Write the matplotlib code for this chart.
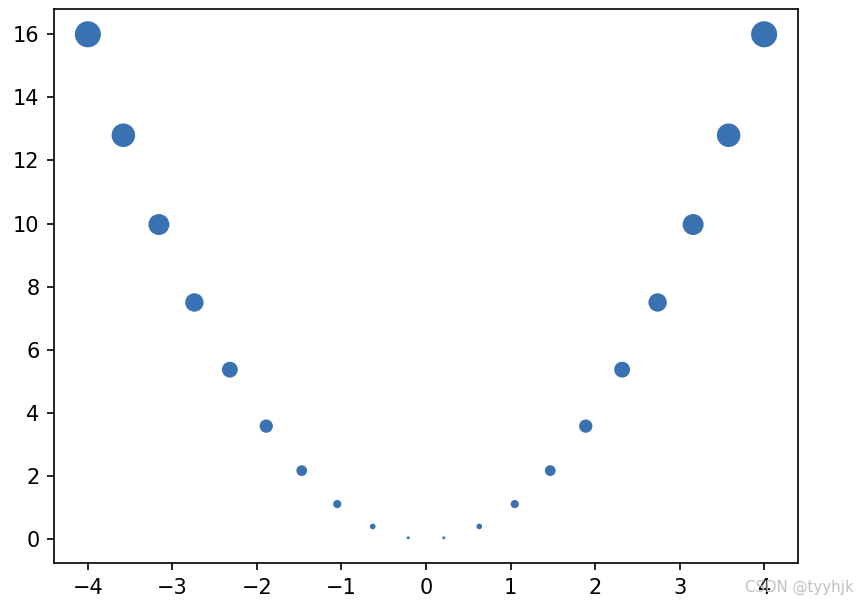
import matplotlib
matplotlib.use('Agg')
import matplotlib.pyplot as plt
import numpy as np

# values (x positions and heights of the dots)
x_vals = [-4.0, -3.58, -3.16, -2.74, -2.32, -1.89, -1.47, -1.05, -0.63, -0.21,
          0.21, 0.63, 1.05, 1.47, 1.89, 2.32, 2.74, 3.16, 3.58, 4.0]
y_vals = [16.0, 12.8, 9.97, 7.5, 5.37, 3.58, 2.17, 1.11, 0.4, 0.04,
          0.04, 0.4, 1.11, 2.17, 3.58, 5.37, 7.5, 9.97, 12.8, 16.0]

fig = plt.figure(figsize=(858 / 150, 607 / 150), dpi=150)
ax = fig.add_axes([0.063, 0.0725, 0.867, 0.9125])

y = np.array(y_vals)
# dot area grows with the value, thin edge keeps the tiny ones visible
ax.scatter(x_vals, y_vals, s=y * 8.5, color='#3a71b1', edgecolors='#3a71b1', linewidths=0.85)

fig.text(0.995, 0.02, 'CSDN @tyyhjk', ha='right', va='bottom', color='#c0c0c0',
         fontsize=7.2)

fig.savefig('out.png', dpi=150)
